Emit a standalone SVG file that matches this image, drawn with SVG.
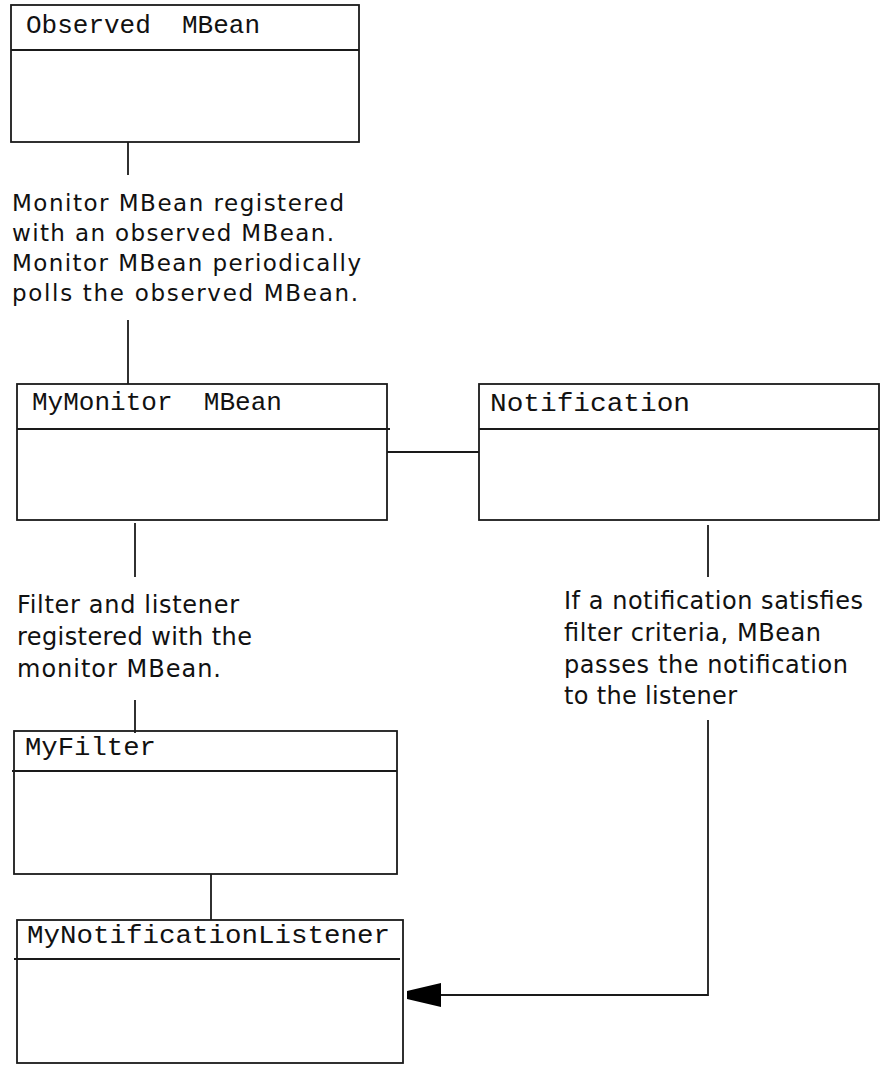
<svg xmlns="http://www.w3.org/2000/svg" width="883" height="1065" viewBox="0 0 883 1065">
<style>
.box{fill:#fff;stroke:#1a1a1a;stroke-width:1.8}
.div{stroke:#1a1a1a;stroke-width:1.8}
.ln{stroke:#1a1a1a;stroke-width:1.8;fill:none}
.hd{font-family:"Liberation Mono","Courier New",monospace;font-size:25px;fill:#111;white-space:pre}
.tx{font-family:"DejaVu Sans","Liberation Sans",sans-serif;font-size:23px;fill:#111}
.tx2{font-family:"DejaVu Sans","Liberation Sans",sans-serif;font-size:24px;fill:#111}
</style>
<rect width="883" height="1065" fill="#fff"/>
<g id="observed-mbean">
<rect class="box" x="11" y="5" width="348" height="137"/>
<line class="div" x1="11" y1="50" x2="359" y2="50"/>
<text class="hd" x="26" y="33" textLength="234" lengthAdjust="spacingAndGlyphs" xml:space="preserve">Observed  MBean</text>
</g>
<g id="mymonitor-mbean">
<rect class="box" x="17" y="384" width="370" height="136"/>
<line class="div" x1="17" y1="429" x2="390" y2="429"/>
<text class="hd" x="32" y="410" textLength="250" lengthAdjust="spacingAndGlyphs" xml:space="preserve">MyMonitor  MBean</text>
</g>
<g id="notification">
<rect class="box" x="479" y="384" width="400" height="136"/>
<line class="div" x1="479" y1="429" x2="879" y2="429"/>
<text class="hd" x="490" y="411" textLength="200" lengthAdjust="spacingAndGlyphs">Notification</text>
</g>
<g id="myfilter">
<rect class="box" x="14" y="731" width="383" height="143"/>
<line class="div" x1="12" y1="771" x2="397" y2="771"/>
<text class="hd" x="25" y="755" textLength="131" lengthAdjust="spacingAndGlyphs">MyFilter</text>
</g>
<g id="mynotificationlistener">
<rect class="box" x="17" y="920" width="386" height="143"/>
<line class="div" x1="14" y1="959" x2="400" y2="959"/>
<text class="hd" x="27" y="943" textLength="363" lengthAdjust="spacingAndGlyphs">MyNotificationListener</text>
</g>
<g id="label-monitor">
<text class="tx" x="12" y="211" textLength="332" lengthAdjust="spacing">Monitor MBean registered</text>
<text class="tx" x="12" y="241" textLength="322" lengthAdjust="spacing">with an observed MBean.</text>
<text class="tx" x="12" y="271" textLength="349" lengthAdjust="spacing">Monitor MBean periodically</text>
<text class="tx" x="12" y="301" textLength="346" lengthAdjust="spacing">polls the observed MBean.</text>
</g>
<g id="label-filter">
<text class="tx2" x="17" y="613" textLength="222" lengthAdjust="spacing">Filter and listener</text>
<text class="tx2" x="17" y="645" textLength="235" lengthAdjust="spacing">registered with the</text>
<text class="tx2" x="17" y="677" textLength="204" lengthAdjust="spacing">monitor MBean.</text>
</g>
<g id="label-notify">
<text class="tx2" x="564" y="609" textLength="299" lengthAdjust="spacing">If a notification satisfies</text>
<text class="tx2" x="564" y="641" textLength="257" lengthAdjust="spacing">filter criteria, MBean</text>
<text class="tx2" x="564" y="673" textLength="284" lengthAdjust="spacing">passes the notification</text>
<text class="tx2" x="564" y="704" textLength="173" lengthAdjust="spacing">to the listener</text>
</g>
<g id="connectors">
<line class="ln" x1="128" y1="142" x2="128" y2="175"/>
<line class="ln" x1="128" y1="320" x2="128" y2="384"/>
<line class="ln" x1="387" y1="452" x2="479" y2="452"/>
<line class="ln" x1="135" y1="523" x2="135" y2="577"/>
<line class="ln" x1="135" y1="700" x2="135" y2="733"/>
<line class="ln" x1="211" y1="874" x2="211" y2="920"/>
<line class="ln" x1="708" y1="525" x2="708" y2="577"/>
<polyline class="ln" points="708,720 708,995 440,995"/>
<polygon points="407,991 441,983 441,1007 407,999" fill="#000"/>
</g>
</svg>
